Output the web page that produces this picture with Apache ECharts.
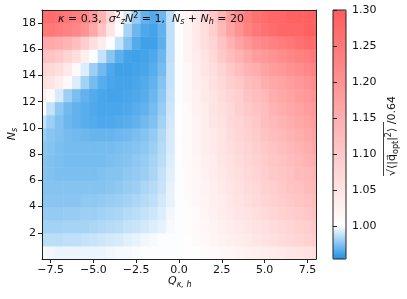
<!DOCTYPE html>
<html><head><meta charset="utf-8">
<script src="https://cdn.jsdelivr.net/npm/echarts@6/dist/echarts.min.js"></script>
<style>html,body{margin:0;padding:0;background:#fff}#c{width:407px;height:299px}</style>
</head><body><div id="c"></div>
<script>
// Column centres (Q_{kappa,h})
const QS = [-8,-7.5,-7,-6.5,-6,-5.5,-5,-4.5,-4,-3.5,-3,-2.5,-2,-1.5,-1,-0.5,0,0.5,1,1.5,2,2.5,3,3.5,4,4.5,5,5.5,6,6.5,7,7.5,8];
// Row lower edges (N_s)
const NS = [0,1,2,3,4,5,6,7,8,9,10,11,12,13,14,15,16,17,18];
// Values per row (row index = N_s lower edge)
const ns0  = [0.998,0.997,0.996,0.996,0.996,0.996,0.996,0.996,0.997,0.998,0.998,0.999,1.0,1.0,1.0,1.0,1.0,1.002,1.004,1.007,1.01,1.013,1.017,1.021,1.025,1.029,1.033,1.037,1.041,1.045,1.05,1.055,1.06];
const ns1  = [0.986,0.986,0.986,0.987,0.987,0.988,0.989,0.99,0.991,0.992,0.994,0.995,0.997,0.998,1.0,1.0,1.0,1.004,1.008,1.013,1.018,1.023,1.029,1.035,1.041,1.047,1.053,1.059,1.065,1.071,1.077,1.083,1.09];
const ns2  = [0.981,0.981,0.981,0.982,0.982,0.982,0.983,0.984,0.985,0.986,0.988,0.989,0.991,0.993,0.995,0.998,1.0,1.005,1.01,1.016,1.022,1.028,1.034,1.04,1.046,1.052,1.058,1.064,1.07,1.077,1.084,1.091,1.098];
const ns3  = [0.978,0.978,0.978,0.979,0.979,0.98,0.98,0.981,0.982,0.983,0.985,0.986,0.988,0.99,0.993,0.997,1.0,1.006,1.012,1.019,1.026,1.033,1.04,1.047,1.054,1.061,1.068,1.075,1.082,1.089,1.096,1.103,1.11];
const ns4  = [0.976,0.976,0.976,0.976,0.976,0.977,0.977,0.978,0.979,0.98,0.981,0.983,0.985,0.987,0.991,0.995,1.0,1.007,1.014,1.021,1.029,1.036,1.044,1.052,1.06,1.068,1.076,1.084,1.092,1.1,1.108,1.115,1.12];
const ns5  = [0.975,0.975,0.975,0.975,0.975,0.975,0.975,0.975,0.976,0.977,0.979,0.98,0.983,0.985,0.989,0.995,1.0,1.008,1.015,1.023,1.031,1.04,1.048,1.056,1.065,1.073,1.082,1.09,1.1,1.11,1.115,1.125,1.13];
const ns6  = [0.975,0.974,0.973,0.973,0.973,0.973,0.973,0.974,0.975,0.975,0.977,0.978,0.98,0.983,0.988,0.994,1.0,1.008,1.016,1.025,1.034,1.043,1.052,1.06,1.07,1.08,1.09,1.1,1.105,1.115,1.125,1.13,1.14];
const ns7  = [0.975,0.974,0.973,0.972,0.972,0.972,0.972,0.972,0.973,0.974,0.975,0.977,0.979,0.982,0.986,0.993,1.0,1.01,1.018,1.027,1.036,1.045,1.055,1.065,1.075,1.085,1.095,1.105,1.11,1.12,1.13,1.14,1.15];
const ns8  = [0.976,0.975,0.973,0.972,0.972,0.972,0.972,0.972,0.972,0.973,0.974,0.975,0.977,0.98,0.985,0.992,1.0,1.01,1.02,1.03,1.04,1.05,1.06,1.07,1.08,1.09,1.1,1.11,1.12,1.13,1.14,1.15,1.16];
const ns9  = [0.979,0.976,0.974,0.972,0.971,0.97,0.969,0.969,0.969,0.97,0.971,0.973,0.975,0.978,0.984,0.992,1.0,1.01,1.02,1.03,1.04,1.05,1.065,1.075,1.085,1.095,1.11,1.12,1.13,1.14,1.15,1.16,1.17];
const ns10 = [0.988,0.98,0.974,0.97,0.968,0.966,0.965,0.964,0.964,0.965,0.966,0.968,0.971,0.974,0.981,0.991,1.0,1.012,1.022,1.033,1.045,1.055,1.07,1.08,1.09,1.1,1.12,1.13,1.14,1.15,1.16,1.17,1.18];
const ns11 = [1.005,0.988,0.977,0.971,0.968,0.966,0.964,0.963,0.963,0.963,0.964,0.966,0.968,0.972,0.979,0.99,1.0,1.012,1.025,1.035,1.05,1.06,1.07,1.09,1.1,1.11,1.12,1.14,1.15,1.16,1.17,1.18,1.19];
const ns12 = [1.03,1.01,0.992,0.98,0.973,0.968,0.965,0.963,0.962,0.962,0.963,0.964,0.966,0.97,0.977,0.989,1.0,1.015,1.025,1.04,1.05,1.065,1.08,1.09,1.11,1.12,1.13,1.15,1.16,1.17,1.18,1.19,1.2];
const ns13 = [1.06,1.05,1.03,1.01,0.993,0.981,0.972,0.966,0.963,0.962,0.962,0.963,0.965,0.968,0.975,0.988,1.0,1.015,1.03,1.04,1.055,1.07,1.09,1.1,1.12,1.13,1.15,1.16,1.17,1.18,1.19,1.2,1.21];
const ns14 = [1.08,1.07,1.06,1.04,1.01,0.993,0.98,0.971,0.964,0.961,0.961,0.962,0.963,0.966,0.972,0.988,1.0,1.015,1.03,1.045,1.06,1.08,1.1,1.12,1.14,1.15,1.17,1.18,1.19,1.2,1.21,1.22,1.23];
const ns15 = [1.12,1.11,1.1,1.08,1.06,1.03,1.0,0.988,0.976,0.967,0.962,0.961,0.962,0.964,0.97,0.987,1.0,1.02,1.035,1.05,1.07,1.1,1.12,1.14,1.16,1.18,1.19,1.2,1.21,1.22,1.23,1.24,1.25];
const ns16 = [1.16,1.16,1.15,1.14,1.12,1.09,1.06,1.03,1.0,0.988,0.975,0.965,0.961,0.961,0.967,0.987,1.0,1.02,1.04,1.06,1.08,1.11,1.14,1.17,1.19,1.21,1.22,1.23,1.24,1.25,1.26,1.27,1.27];
const ns17 = [1.25,1.25,1.24,1.23,1.22,1.2,1.16,1.11,1.05,1.0,0.982,0.97,0.964,0.962,0.968,0.987,1.0,1.02,1.04,1.06,1.09,1.13,1.17,1.2,1.23,1.25,1.26,1.27,1.28,1.28,1.28,1.29,1.29];
const ns18 = [1.27,1.27,1.26,1.25,1.24,1.22,1.19,1.14,1.08,1.02,0.992,0.978,0.968,0.965,0.97,0.987,1.0,1.02,1.04,1.07,1.1,1.14,1.18,1.21,1.24,1.26,1.27,1.28,1.28,1.29,1.29,1.29,1.29];
const ROWS = [ns0,ns1,ns2,ns3,ns4,ns5,ns6,ns7,ns8,ns9,ns10,ns11,ns12,ns13,ns14,ns15,ns16,ns17,ns18];
// Tick labels
const X_TICKS = [-7.5,-5,-2.5,0,2.5,5,7.5];
const Y_TICKS = [2,4,6,8,10,12,14,16,18];
const CB_TICKS = [1.00,1.05,1.10,1.15,1.20,1.25,1.30];
const VMIN = 0.954, VMAX = 1.30, VCENTER = 1.0;

const data = [];
ROWS.forEach((row, r) => row.forEach((v, c) => data.push([QS[c], NS[r], v])));

// two-slope colour ramp for the visualMap
const BLUE = [30,144,229], WHITE = [255,255,255], RED = [255,92,92];
function mix(a, b, f) { return 'rgb(' + a.map((x, i) => Math.round(x + (b[i] - x) * f)).join(',') + ')'; }
const ramp = [];
for (let i = 0; i <= 140; i++) {
  const v = VMIN + (VMAX - VMIN) * i / 140;
  ramp.push(v < VCENTER ? mix(WHITE, BLUE, (VCENTER - v) / (VCENTER - VMIN)) : mix(WHITE, RED, (v - VCENTER) / (VMAX - VCENTER)));
}

const FONT = 'DejaVu Sans';
const minus = s => String(s).replace('-', '\u2212');
const chart = echarts.init(document.getElementById('c'), null, {renderer: 'canvas'});
const axisLineStyle = {color: '#222', width: 1};
chart.setOption({
  animation: false,
  textStyle: {fontFamily: FONT},
  grid: [
    {left: 42, top: 10, width: 274, height: 249},
    {left: 333, top: 10, width: 13, height: 249}
  ],
  xAxis: [
    {type: 'value', gridIndex: 0, min: -8, max: 8, z: 10,
     axisLine: {show: true, onZero: false, lineStyle: axisLineStyle},
     axisTick: {show: true, length: 4, lineStyle: {color: '#222'}, customValues: X_TICKS},
     axisLabel: {fontFamily: FONT, fontSize: 11, color: '#111', margin: 6, customValues: X_TICKS,
                 formatter: v => minus(v.toFixed(1))},
     splitLine: {show: false}},
    {type: 'value', gridIndex: 0, position: 'top', min: -8, max: 8, z: 10,
     axisLine: {show: true, onZero: false, lineStyle: axisLineStyle},
     axisTick: {show: false}, axisLabel: {show: false}, splitLine: {show: false}},
    {type: 'value', gridIndex: 1, min: 0, max: 1, show: false}
  ],
  yAxis: [
    {type: 'value', gridIndex: 0, min: 0, max: 19, z: 10,
     axisLine: {show: true, onZero: false, lineStyle: axisLineStyle},
     axisTick: {show: true, length: 4, lineStyle: {color: '#222'}, customValues: Y_TICKS},
     axisLabel: {fontFamily: FONT, fontSize: 11, color: '#111', margin: 6, customValues: Y_TICKS},
     splitLine: {show: false}},
    {type: 'value', gridIndex: 0, position: 'right', min: 0, max: 19, z: 10,
     axisLine: {show: true, onZero: false, lineStyle: axisLineStyle},
     axisTick: {show: false}, axisLabel: {show: false}, splitLine: {show: false}},
    {type: 'value', gridIndex: 1, position: 'right', min: VMIN, max: VMAX, z: 10,
     axisLine: {show: false},
     axisTick: {show: true, length: 4, lineStyle: {color: '#222'}, customValues: CB_TICKS},
     axisLabel: {fontFamily: FONT, fontSize: 11, color: '#111', margin: 6, customValues: CB_TICKS,
                 formatter: v => v.toFixed(2)},
     splitLine: {show: false}}
  ],
  visualMap: {
    type: 'continuous', seriesIndex: 0, dimension: 2, min: VMIN, max: VMAX,
    calculable: false, realtime: false, left: 333, top: 10, itemWidth: 13, itemHeight: 249,
    padding: 0, orient: 'vertical', showLabel: false, text: null,
    inRange: {color: ramp}
  },
  series: [{
    type: 'custom', xAxisIndex: 0, yAxisIndex: 0, data: data, clip: true,
    renderItem: function (params, api) {
      const x = api.value(0), y = api.value(1);
      const x0 = Math.max(-8, x - 0.25), x1 = Math.min(8, x + 0.25);
      const p0 = api.coord([x0, y + 1]);
      const p1 = api.coord([x1, y]);
      return {type: 'rect',
        shape: {x: p0[0], y: p0[1], width: p1[0] - p0[0] + 0.5, height: p1[1] - p0[1] + 0.5},
        style: {fill: api.visual('color')}};
    }
  }],
  graphic: [
    {type: 'rect', z: 100, shape: {x: 333, y: 10, width: 13, height: 249},
     style: {fill: 'none', stroke: '#222', lineWidth: 1}},
    {type: 'text', z: 100, left: 58, top: 12,
     style: {text: '{i|κ} = 0.3,  {i|σ}{sup|2}{sub|z}{i|N}{sup|2} = 1,  {i|N}{sub|s} + {i|N}{sub|h} = 20',
       font: '11px "DejaVu Sans"', fill: '#111',
       rich: {i: {fontStyle: 'italic', fontSize: 11, fontFamily: FONT},
              sup: {fontSize: 8, fontFamily: FONT, verticalAlign: 'top', lineHeight: 14},
              sub: {fontStyle: 'italic', fontSize: 8, fontFamily: FONT, verticalAlign: 'bottom', lineHeight: 14}}}},
    {type: 'text', z: 100, left: 168, top: 276,
     style: {text: '{i|Q}{sub|κ, h}', fill: '#111',
       rich: {i: {fontStyle: 'italic', fontSize: 11, fontFamily: FONT},
              sub: {fontStyle: 'italic', fontSize: 8, fontFamily: FONT, verticalAlign: 'bottom', lineHeight: 14}}}},
    {type: 'text', z: 100, x: 12, y: 134, rotation: Math.PI / 2,
     style: {text: '{i|N}{sub|s}', fill: '#111', align: 'center', verticalAlign: 'middle',
       rich: {i: {fontStyle: 'italic', fontSize: 11, fontFamily: FONT},
              sub: {fontStyle: 'italic', fontSize: 8, fontFamily: FONT, verticalAlign: 'bottom', lineHeight: 14}}}},
    {type: 'group', x: 392, y: 136, rotation: Math.PI / 2, z: 100, children: [
      {type: 'text', x: 0, y: 0,
       style: {text: '{n|√⟨|}{i|q\u20D7}{sub|opt}{n||}{sup|2}{n|⟩ /0.64}', fill: '#111',
         align: 'center', verticalAlign: 'middle',
         rich: {n: {fontSize: 11, fontFamily: FONT},
                i: {fontSize: 11, fontFamily: FONT},
                sup: {fontSize: 8, fontFamily: FONT, verticalAlign: 'top', lineHeight: 15},
                sub: {fontSize: 8, fontFamily: FONT, verticalAlign: 'bottom', lineHeight: 15}}}},
      {type: 'line', shape: {x1: -40, y1: -8.5, x2: 14, y2: -8.5}, style: {stroke: '#111', lineWidth: 0.8}}
    ]}
  ]
});
</script></body></html>
